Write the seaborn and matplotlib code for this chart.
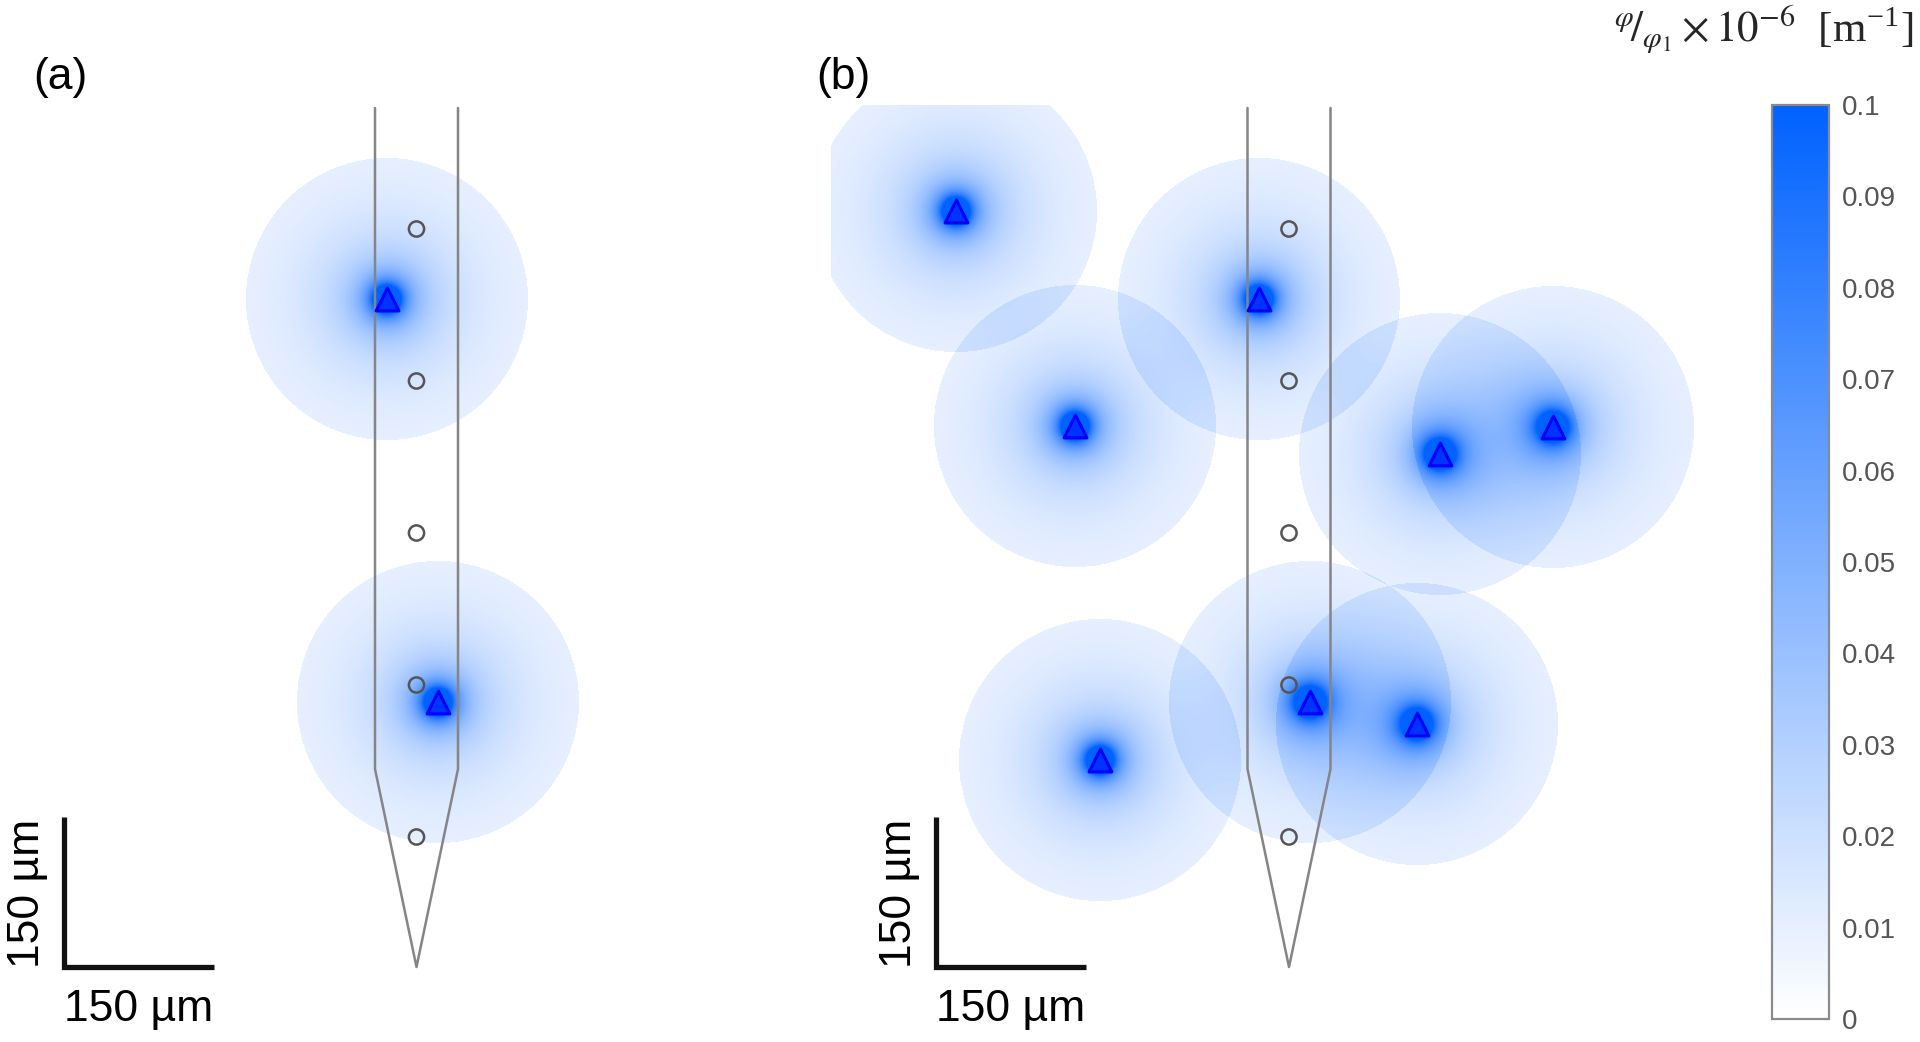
import numpy as np
import matplotlib.pyplot as plt
import seaborn as sns
from matplotlib.colors import Normalize
from matplotlib.cm import ScalarMappable

sns.set_theme(style="white")
plt.rcParams["font.family"] = ["Liberation Sans", "DejaVu Sans"]
plt.rcParams["mathtext.fontset"] = "stix"

# geometry in um, x relative to the probe axis, y = depth below the top of the drawing
probe_x = [-41.5, -41.5, 0.0, 41.5, 41.5]
probe_y = [0.0, 661.0, 859.0, 661.0, 0.0]
contact_y = [121, 273, 425, 577, 729]

# neuron positions (triangles)
src_a_x = [-30, 21]
src_a_y = [191, 594]
src_b_x = [-333, -30, -214, 151, 264, 21, 128, -189]
src_b_y = [103, 191, 318, 346, 319, 594, 616, 652]

field_radius = 141.0
field_gain = 1.4

cbar_ticks = [0, 0.01, 0.02, 0.03, 0.04, 0.05, 0.06, 0.07, 0.08, 0.09, 0.1]
cbar_labels = ["0", "0.01", "0.02", "0.03", "0.04", "0.05", "0.06", "0.07", "0.08", "0.09", "0.1"]

W, H = 1920, 1042
cmap = sns.blend_palette(["#ffffff", "#0062ff"], as_cmap=True)
norm = Normalize(0, 0.1)


def field(x0, x1, y0, y1, sx, sy):
    xs = np.arange(x0, x1) + 0.5
    ys = np.arange(y0, y1) + 0.5
    X, Y = np.meshgrid(xs, ys)
    F = np.zeros_like(X)
    for cx, cy in zip(sx, sy):
        r = np.hypot(X - cx, Y - cy)
        F += np.where(r <= field_radius, field_gain / np.maximum(r, 1.0), 0.0)
    return F


def panel(px0, px1, centre, sx, sy, img_left, label):
    ax = fig.add_axes([px0 / W, 0, (px1 - px0) / W, 1])
    xl = (px0 - centre, px1 - centre)
    ax.set_xlim(*xl)
    ax.set_ylim(H - 108, -108)
    ax.axis("off")

    left = max(xl[0], img_left)
    F = field(int(left), int(xl[1]), -3, H - 108, sx, sy)
    ax.imshow(F, cmap=cmap, norm=norm, extent=(int(left), int(xl[1]), H - 108, -3),
              origin="upper", interpolation="nearest", aspect="auto", zorder=1)

    ax.plot(probe_x, probe_y, color="#858585", lw=1.8, zorder=3)
    sns.scatterplot(x=[0] * len(contact_y), y=contact_y, ax=ax, marker="o", s=120,
                    fc="none", ec="#555555", linewidth=1.8, zorder=4, legend=False)
    sns.scatterplot(x=sx, y=sy, ax=ax, marker="^", s=270, color="#0033ff",
                    ec="#0000ff", linewidth=2.2, zorder=5, legend=False)

    # scale bar 150 um
    ax.plot([-353, -353, -203], [709, 859, 859], color="#111111", lw=3.8,
            solid_joinstyle="miter", solid_capstyle="butt", zorder=6)
    ax.text(-278, 902, "150 µm", ha="center", va="center", fontsize=32, color="black")
    ax.text(-389, 785, "150 µm", ha="center", va="center", rotation=90, fontsize=32,
            color="black")
    ax.text(px0 - centre + (60 if px0 == 0 else 12), -31, label, ha="center",
            va="center", fontsize=32, color="black")
    return ax


fig = plt.figure(figsize=(W / 100, H / 100), dpi=100)
panel(0, 831, 416.5, src_a_x, src_a_y, -1e9, "(a)")
panel(831, 1760, 1289, src_b_x, src_b_y, -458, "(b)")

cax = fig.add_axes([1772 / W, (H - 1019) / H, 57 / W, 914 / H])
cb = fig.colorbar(ScalarMappable(norm=norm, cmap=cmap), cax=cax, ticks=cbar_ticks)
cb.set_ticklabels(cbar_labels)
cb.ax.tick_params(direction="in", length=9, width=1.3, color="#666666", labelsize=20,
                  labelcolor="#555555", pad=9)
cb.outline.set_edgecolor("#8a8a8a")
cb.outline.set_linewidth(1.6)

fig.text(1913 / W, 1 - 30 / H,
         r"$^{\varphi}\!/_{\varphi_1}\times10^{-6}$  [m$^{\mathregular{-1}}$]",
         ha="right", va="center", fontsize=31, family=["Liberation Serif", "DejaVu Serif"])

plt.savefig("out.png", dpi=100)
